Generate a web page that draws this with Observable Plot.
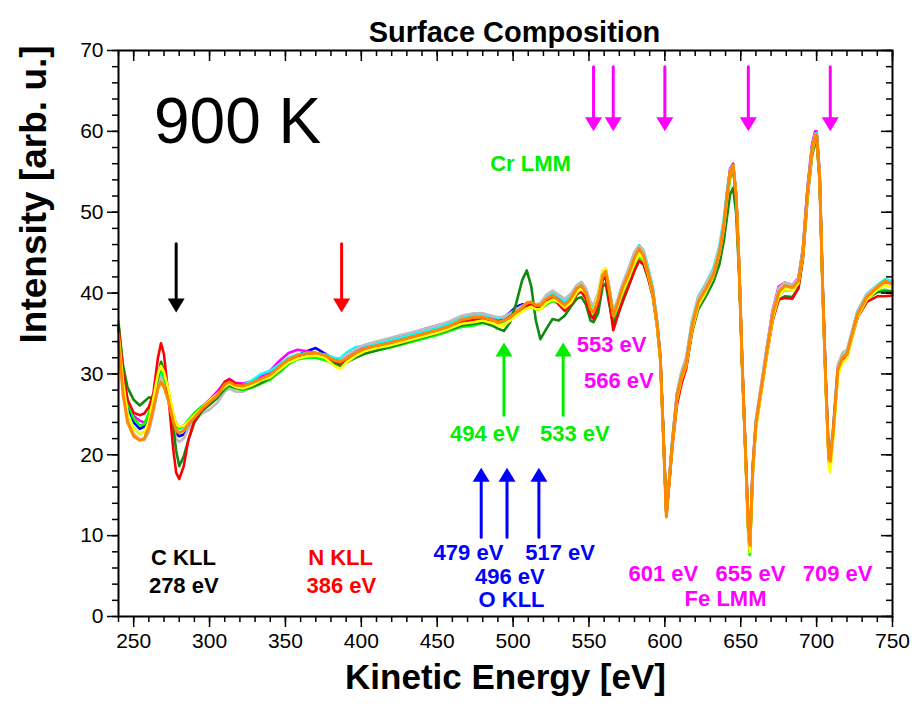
<!DOCTYPE html>
<html>
<head>
<meta charset="utf-8">
<script src="https://cdn.jsdelivr.net/npm/d3@7"></script>
<script src="https://cdn.jsdelivr.net/npm/@observablehq/plot@0.6"></script>
<style>
  html, body { margin: 0; padding: 0; background: #fff; }
  #chart svg { display: block; }
</style>
</head>
<body>
<div id="chart"></div>
<script>
// ---------- DATA ----------
const energy = [240,243,246,250,254,257,260,263,266,268,270,273,276,278,280,283,286,290,295,300,
305,310,313,317,322,328,334,340,346,352,358,364,370,376,382,386,390,396,402,410,
418,426,434,442,450,458,466,474,480,486,490,494,498,502,506,509,512,515,518,522,
526,530,534,538,542,545,548,551,553,556,559,561,563,566,569,572,576,580,583,586,
589,592,595,597,599,601,603,605,608,611,614,618,622,627,632,636,639,641,643,645,
647,649,651,653,655,656,658,660,663,667,671,675,679,684,688,691,694,697,699,700,
702,704,706,708,709,711,714,717,720,723,727,733,740,745,750];

const blueY = [35.5,29.5,25.8,24.0,23.2,23.5,24.2,26.6,29.6,30.4,
29.4,27.0,24.2,22.6,22.3,22.5,23.2,24.4,25.6,26.6,
27.6,28.8,29.2,28.7,28.5,28.8,29.4,30.0,31.0,31.7,
32.3,32.8,33.2,32.5,31.8,31.6,32.0,32.5,33.0,33.6,
34.0,34.4,34.8,35.2,35.6,36.2,36.8,37.2,37.3,37.0,
36.7,37.0,37.6,38.3,38.6,38.5,38.7,38.2,38.3,39.1,
39.5,39.0,38.4,39.3,40.6,40.9,40.0,38.2,37.8,39.6,
42.4,42.8,40.8,37.2,38.8,40.6,42.4,44.6,45.6,45.0,
42.8,40.4,36.1,32.1,22.6,12.5,17.1,21.6,27.3,29.8,
31.5,36.2,39.2,40.8,42.6,45.3,48.8,52.3,55.2,55.9,
52.1,43.1,31.1,21.1,11.1,8.9,18.6,23.9,27.6,32.7,
37.5,40.3,41.0,40.9,41.7,45.3,52.8,58.1,59.7,59.8,
54.5,40.7,29.2,19.7,19.4,23.2,30.7,32.2,32.6,34.8,
37.6,39.7,40.9,41.6,41.4];

const magentaY = [35.5,30.0,26.5,24.8,24.2,24.0,24.6,27.0,29.8,30.5,
29.8,27.6,25.0,23.8,23.5,23.6,24.0,24.8,25.9,26.8,
27.8,29.0,29.4,28.9,28.8,29.1,29.7,30.4,31.6,32.6,
33.0,32.8,32.6,32.2,31.6,31.7,32.2,32.9,33.4,33.8,
34.2,34.7,35.1,35.6,36.0,36.4,36.9,37.2,37.2,36.9,
36.6,36.8,37.3,37.9,38.3,38.6,38.8,38.5,38.6,39.5,
39.9,39.3,38.6,39.5,40.8,41.1,40.2,38.3,37.8,39.5,
42.5,43.0,41.0,37.4,39.0,40.9,42.8,45.0,45.9,45.0,
42.8,40.4,36.2,32.2,22.8,12.8,17.4,22.0,27.6,30.1,
31.7,36.4,39.4,41.0,42.8,45.5,49.0,52.5,55.4,56.0,
52.2,43.2,31.2,21.2,11.2,9.0,18.8,24.2,27.9,33.0,
37.9,40.8,41.3,41.0,41.9,45.6,53.1,58.4,60.0,60.0,
54.8,40.9,29.4,19.9,19.6,23.4,30.9,32.3,32.7,34.9,
37.7,39.8,40.8,41.3,41.2];

const cyanY = [35.0,29.2,25.2,23.3,22.6,22.8,23.8,26.4,29.2,30.0,
29.4,27.2,24.6,23.4,23.2,23.4,23.9,24.6,25.6,26.4,
27.4,28.6,29.0,28.6,28.6,29.2,30.0,30.4,31.2,32.0,
32.4,32.6,32.6,32.4,32.0,31.9,32.6,33.3,33.5,33.8,
34.1,34.5,34.9,35.3,35.7,36.2,36.9,37.2,37.3,37.1,
36.9,37.0,37.4,37.9,38.3,38.6,38.7,38.4,38.6,39.6,
40.1,39.6,39.0,39.7,40.9,41.2,40.4,38.6,38.2,39.8,
42.7,43.0,41.0,37.6,39.2,41.0,42.9,45.0,45.9,45.3,
43.2,40.8,36.4,32.3,22.8,12.6,17.3,22.0,27.6,30.2,
31.9,36.7,39.6,41.2,43.1,45.9,49.4,52.7,55.3,55.8,
52.0,43.1,31.1,21.1,11.0,8.8,18.7,24.0,27.8,32.9,
37.7,40.5,41.1,40.9,41.8,45.4,52.8,58.1,59.7,59.8,
54.6,40.8,29.4,19.8,19.5,23.4,30.9,32.3,32.7,35.0,
37.8,39.9,41.0,41.7,41.5];

const grayY = [35.0,28.8,24.6,22.6,21.9,21.8,22.8,25.2,28.4,29.6,
29.0,26.5,23.6,22.0,21.6,22.0,23.2,24.2,25.1,25.6,
26.4,27.8,28.2,27.8,27.8,28.4,29.2,29.8,30.6,31.4,
31.9,32.2,32.3,32.1,31.6,31.6,32.3,33.0,33.6,34.0,
34.4,34.8,35.2,35.6,36.0,36.5,37.2,37.5,37.5,37.2,
37.0,37.1,37.5,38.0,38.4,38.7,38.8,38.6,38.8,39.8,
40.3,39.8,39.3,39.9,41.0,41.4,40.6,38.9,38.5,40.0,
42.8,43.0,41.0,37.6,39.2,41.1,43.0,45.1,45.8,45.2,
43.0,40.6,36.3,32.2,22.7,12.6,17.2,21.9,27.8,30.4,
32.0,36.6,39.5,41.1,42.9,45.6,49.1,52.4,55.1,55.7,
51.9,43.0,31.0,21.0,11.1,8.9,18.9,24.3,28.1,33.1,
37.8,40.6,41.3,41.0,41.8,45.4,52.6,57.9,59.5,59.6,
54.4,40.7,29.5,20.0,19.8,23.8,31.2,32.6,33.0,35.1,
37.7,39.8,40.9,41.4,41.3];

const limeY = [36.5,30.5,26.5,24.5,23.6,23.8,25.2,27.5,29.8,30.4,
29.6,27.6,25.0,23.6,23.3,23.6,24.3,25.2,26.0,26.6,
27.2,28.0,28.5,28.2,28.0,28.3,28.8,29.3,30.2,31.2,
31.8,32.0,32.0,31.7,31.2,31.2,31.5,32.0,32.5,32.9,
33.2,33.6,34.0,34.4,34.8,35.3,35.8,36.0,36.3,36.1,
36.2,36.5,37.0,37.4,37.8,38.1,38.3,38.0,38.0,38.6,
39.0,38.8,38.0,38.6,39.8,40.2,39.4,37.4,37.0,38.7,
41.6,42.0,40.0,36.3,38.0,39.8,41.6,43.6,44.5,44.0,
42.0,39.9,35.8,32.0,22.4,12.6,16.8,21.4,27.0,29.6,
31.2,35.7,38.6,40.2,42.0,44.6,47.8,51.2,54.2,55.2,
51.8,43.0,30.9,20.8,10.0,7.6,18.0,23.5,27.3,32.3,
37.0,39.7,40.4,40.3,41.2,44.8,52.2,57.5,59.3,59.5,
54.3,40.3,28.8,19.0,18.8,22.6,30.1,31.8,32.2,34.4,
37.2,39.3,40.2,40.4,40.2];

const darkGreenY = [36.0,31.0,28.3,26.8,26.1,26.6,27.1,27.0,29.5,31.5,
30.5,27.8,23.5,20.5,18.6,19.8,21.8,24.0,25.4,26.2,
27.0,28.2,28.6,28.3,28.1,28.4,28.9,29.5,30.4,31.4,
32.0,32.3,32.4,32.0,31.4,31.0,31.4,32.0,32.5,32.9,
33.3,33.7,34.2,34.6,35.0,35.5,36.0,36.2,36.4,36.0,
35.6,35.3,36.4,38.7,41.6,42.8,40.8,36.6,34.3,35.6,
36.8,36.6,37.2,38.3,39.3,39.5,38.6,36.6,36.4,37.5,
40.8,41.2,39.0,36.2,37.3,38.8,40.8,42.8,44.0,43.5,
41.8,39.6,35.6,31.8,22.6,12.6,17.0,21.6,26.8,29.2,
30.8,35.2,38.0,39.6,41.4,43.6,46.6,49.5,52.2,53.0,
49.8,42.0,30.6,20.8,10.6,8.2,18.2,23.6,27.2,32.2,
36.8,39.2,39.6,39.5,40.6,44.2,51.6,57.0,58.6,58.8,
53.8,40.2,28.8,19.2,19.0,22.8,30.2,31.8,32.3,34.4,
37.2,39.3,40.1,40.2,40.2];

const redY = [36.0,30.0,26.8,25.2,24.9,25.1,25.9,27.6,32.0,33.8,
32.4,27.0,20.8,17.8,17.0,18.6,21.8,24.2,25.6,26.4,
27.4,29.0,29.3,28.8,28.6,28.8,29.3,29.8,30.7,31.6,
32.1,32.4,32.6,32.2,31.6,31.3,31.8,32.4,32.9,33.3,
33.6,34.0,34.4,34.8,35.2,35.8,36.4,36.7,36.8,36.6,
36.5,36.6,37.1,37.6,38.0,38.4,38.6,38.2,38.2,39.0,
39.4,38.6,37.8,38.6,39.9,40.2,39.3,37.2,36.8,38.6,
41.6,42.0,39.6,35.4,37.2,39.0,40.8,42.8,44.0,43.6,
41.9,39.8,35.8,31.9,22.4,12.4,16.8,21.0,26.2,28.8,
30.6,35.4,38.5,40.2,42.2,44.9,48.4,51.9,54.9,55.6,
51.9,42.9,30.9,20.9,10.8,8.6,18.3,23.5,27.2,32.1,
36.6,39.2,39.4,39.3,40.6,44.5,52.2,57.6,59.3,59.4,
54.1,40.3,28.9,19.3,19.1,22.9,30.3,31.8,32.2,34.3,
37.0,38.9,39.6,39.6,39.7];

const yellowY = [35.0,29.0,25.0,23.2,22.6,22.8,24.2,27.0,30.0,31.0,
30.2,28.0,25.2,23.8,23.5,23.6,24.1,24.9,25.8,26.7,
27.5,28.4,28.8,28.4,28.2,28.6,29.2,29.6,30.5,31.4,
31.9,32.2,32.3,32.0,31.0,30.6,31.4,32.2,32.8,33.2,
33.5,33.9,34.3,34.7,35.1,35.6,36.2,36.4,36.6,36.3,
36.0,36.0,36.6,37.2,37.7,38.1,38.3,38.0,38.0,38.8,
39.2,38.9,38.2,38.8,40.1,40.5,39.9,38.2,37.8,39.7,
42.8,43.1,41.0,37.2,38.4,40.1,41.8,43.7,44.8,44.2,
42.2,39.9,35.6,31.6,22.2,12.4,17.2,21.3,26.8,29.4,
31.0,35.5,38.4,40.1,42.1,44.8,48.2,51.6,54.8,55.8,
52.2,43.2,30.8,20.6,10.2,8.0,17.8,23.2,27.0,32.0,
36.8,39.6,40.5,40.3,41.2,44.6,52.0,57.4,59.2,59.4,
54.2,40.0,28.2,18.6,17.8,22.0,29.6,31.4,31.9,34.2,
37.1,39.2,40.4,41.0,40.7];

const orangeY = [34.0,27.5,24.0,22.3,21.8,22.0,23.4,25.8,28.2,29.0,
28.4,26.6,24.2,23.0,22.7,23.0,23.8,24.6,25.7,26.5,
27.3,28.7,29.0,28.6,28.5,28.9,29.4,29.9,30.9,31.8,
32.3,32.5,32.6,32.3,31.7,31.5,31.9,32.6,33.1,33.5,
33.8,34.2,34.6,35.0,35.4,35.9,36.7,37.0,37.0,36.7,
36.4,36.6,37.0,37.6,38.2,38.8,38.9,38.5,38.5,39.3,
39.7,39.1,38.5,39.3,40.6,40.9,40.0,38.0,37.6,39.2,
42.2,42.7,40.8,37.2,38.8,40.6,42.3,44.4,45.5,44.6,
42.5,40.2,36.0,32.0,22.5,12.3,17.0,21.5,27.3,29.7,
31.3,36.0,38.9,40.5,42.3,45.0,48.5,52.0,55.0,55.8,
52.0,43.0,31.0,21.0,11.0,8.8,18.5,23.8,27.5,32.5,
37.3,40.1,40.9,40.7,41.5,45.0,52.5,57.8,59.5,59.6,
54.3,40.5,29.0,19.5,19.2,23.0,30.5,32.0,32.4,34.6,
37.4,39.5,40.7,41.5,41.1];

// series in drawing order (bottom to top)
const seriesNames  = ["blue", "magenta", "cyan", "gray", "lime", "darkgreen", "red", "yellow", "orange"];
const seriesColors = ["#0000ff", "#ff00ff", "#00ffff", "#bdbdbd", "#00ff00", "#108a10", "#ff0000", "#ffff00", "#ff8800"];
const seriesValues = [blueY, magentaY, cyanY, grayY, limeY, darkGreenY, redY, yellowY, orangeY];

// tick labels
const xTicks = [250, 300, 350, 400, 450, 500, 550, 600, 650, 700, 750];
const yTicks = [0, 10, 20, 30, 40, 50, 60, 70];

// peak annotations
const annoText  = ["C KLL", "278 eV", "N KLL", "386 eV", "479 eV", "517 eV", "496 eV", "O KLL",
                   "494 eV", "533 eV", "Cr LMM", "553 eV", "566 eV", "601 eV", "655 eV", "709 eV", "Fe LMM"];
const annoX     = [282.8, 283.0, 386.3, 386.8, 470.6, 531.0, 497.9, 499.0,
                   481.4, 540.7, 511.5, 564.9, 569.7, 599.0, 656.4, 713.8, 640.0];
const annoY     = [7.2, 3.8, 7.2, 3.8, 7.9, 7.9, 4.95, 2.0,
                   22.6, 22.6, 56.0, 33.6, 29.1, 5.3, 5.3, 5.3, 2.2];
const annoColor = ["#000000", "#000000", "#ff0000", "#ff0000", "#0000ff", "#0000ff", "#0000ff", "#0000ff",
                   "#00ee00", "#00ee00", "#00ee00", "#ff00ff", "#ff00ff", "#ff00ff", "#ff00ff", "#ff00ff", "#ff00ff"];

// arrows: energy, tail intensity, tip intensity, colour
const arrowX     = [278, 387, 494, 533, 479, 496, 517, 553, 566, 600, 655, 709];
const arrowTail  = [46.1, 46.1, 24.9, 24.9, 9.8, 9.8, 9.8, 68.0, 68.0, 68.0, 68.0, 68.0];
const arrowTip   = [37.6, 37.6, 33.9, 33.9, 18.4, 18.4, 18.4, 60.0, 60.0, 60.0, 60.0, 60.0];
const arrowColor = ["#000000", "#ff0000", "#00ee00", "#00ee00", "#0000ff", "#0000ff", "#0000ff",
                    "#ff00ff", "#ff00ff", "#ff00ff", "#ff00ff", "#ff00ff"];

// ---------- BUILD ----------
const W = 912, H = 712;
const mT = 50, mB = 96, mL = 118, mR = 20;
const frameW = W - mL - mR, frameH = H - mT - mB;

const xMinor = d3.range(240, 751, 10);
const yMinor = d3.range(0, 71, 2);

const lineMarks = seriesNames.map((name, s) =>
  Plot.line(energy.map((e, i) => ({energy: e, value: seriesValues[s][i]})), {
    x: "energy", y: "value",
    stroke: seriesColors[s],
    strokeWidth: name === "orange" ? 3 : 2.6,
    strokeLinejoin: "round"
  })
);

const arrows = arrowX.map((x, i) => ({x, tail: arrowTail[i], tip: arrowTip[i], color: arrowColor[i]}));
const upArrows = arrows.filter(a => a.tip > a.tail);
const downArrows = arrows.filter(a => a.tip < a.tail);
const triUp = {draw(ctx) { ctx.moveTo(0, 0); ctx.lineTo(-8.5, 14); ctx.lineTo(8.5, 14); ctx.closePath(); }};
const triDown = {draw(ctx) { ctx.moveTo(0, 0); ctx.lineTo(-8.5, -14); ctx.lineTo(8.5, -14); ctx.closePath(); }};

const annos = annoText.map((t, i) => ({t, x: annoX[i], y: annoY[i], c: annoColor[i]}));

const font = "'Liberation Sans', Arial, Helvetica, sans-serif";

const chart = Plot.plot({
  width: W, height: H,
  marginTop: mT, marginBottom: mB, marginLeft: mL, marginRight: mR,
  style: {fontFamily: font, background: "white", color: "black"},
  x: {domain: [240, 750]},
  y: {domain: [0, 70]},
  color: {type: "identity"},
  marks: [
    // data lines
    ...lineMarks,
    // arrows
    Plot.arrow(arrows, {x1: "x", x2: "x", y1: "tail", y2: "tip", stroke: "color", strokeWidth: 3, headLength: 0, insetEnd: 10}),
    Plot.dot(upArrows, {x: "x", y: "tip", symbol: triUp, fill: "color", stroke: null, r: 6}),
    Plot.dot(downArrows, {x: "x", y: "tip", symbol: triDown, fill: "color", stroke: null, r: 6}),
    // annotations
    Plot.text(annos, {x: "x", y: "y", text: "t", fill: "c", fontSize: 22, fontWeight: "bold"}),
    Plot.text(["900 K"], {x: 318.5, y: 61.1, fontSize: 64, fill: "black"}),
    // axes (bottom / left)
    Plot.axisX({ticks: xTicks, tickSize: 11, tickPadding: 6, fontSize: 21, label: null, strokeWidth: 1.5}),
    Plot.axisX({ticks: xMinor, tickSize: 6, tickFormat: () => "", label: null, strokeWidth: 1.5}),
    Plot.axisY({ticks: yTicks, tickSize: 11, tickPadding: 4, fontSize: 21, label: null, strokeWidth: 1.5}),
    Plot.axisY({ticks: yMinor, tickSize: 6, tickFormat: () => "", label: null, strokeWidth: 1.5}),
    // mirrored inward ticks (top / right)
    Plot.tickX(xTicks, {x: d => d, insetBottom: frameH - 11, strokeWidth: 1.5}),
    Plot.tickX(xMinor, {x: d => d, insetBottom: frameH - 6, strokeWidth: 1.5}),
    Plot.tickY(yTicks, {y: d => d, insetLeft: frameW - 11, strokeWidth: 1.5}),
    Plot.tickY(yMinor, {y: d => d, insetLeft: frameW - 6, strokeWidth: 1.5}),
    Plot.frame({stroke: "black", strokeWidth: 2}),
    // titles
    Plot.text(["Surface Composition"], {frameAnchor: "top", dy: -29, dx: 9, fontSize: 29, fontWeight: "bold", fill: "black"}),
    Plot.text(["Kinetic Energy [eV]"], {frameAnchor: "bottom", dy: 72, fontSize: 35, fontWeight: "bold", fill: "black"}),
    Plot.text(["Intensity [arb. u.]"], {frameAnchor: "left", dx: -84, dy: 10, rotate: -90, fontSize: 37, fontWeight: "bold", fill: "black"})
  ]
});

document.getElementById("chart").appendChild(chart);
</script>
</body>
</html>
